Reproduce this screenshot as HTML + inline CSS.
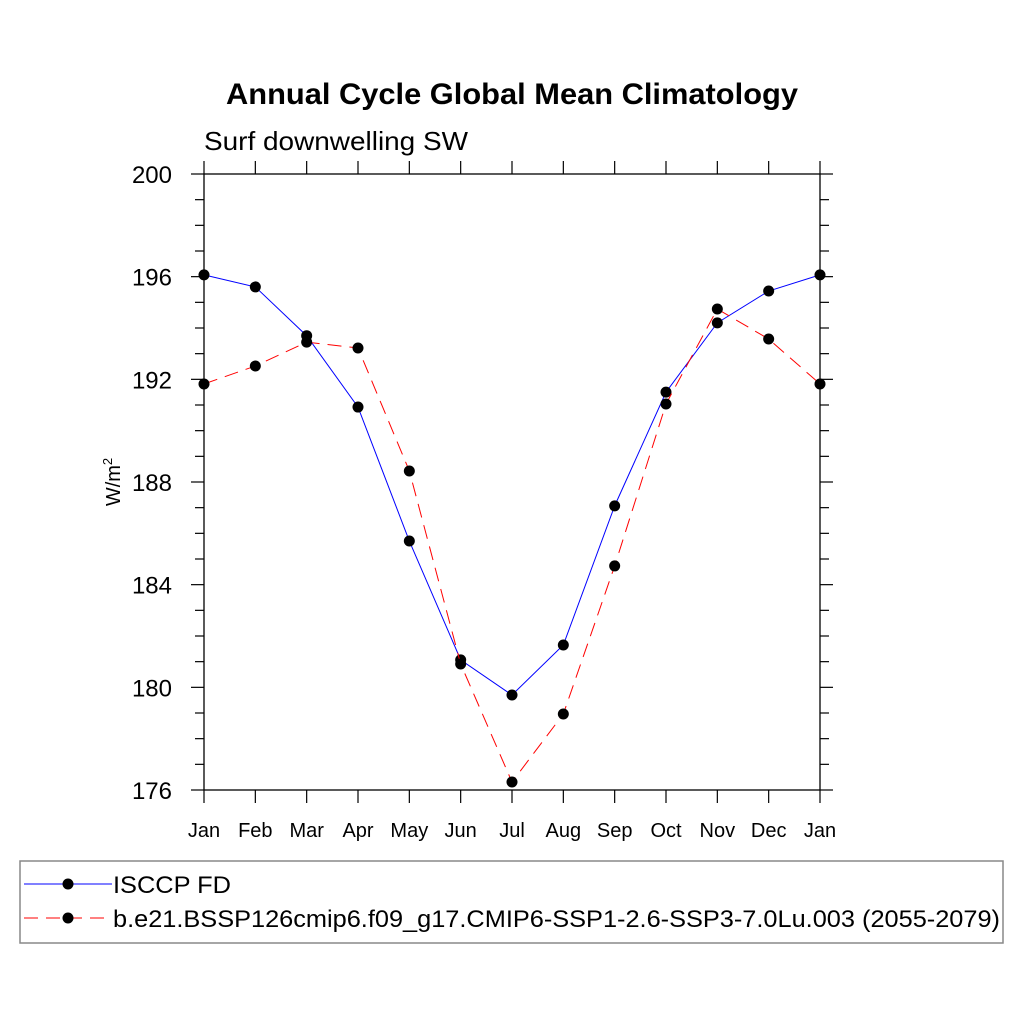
<!DOCTYPE html>
<html><head><meta charset="utf-8"><style>
body{margin:0;background:#fff}
svg text{font-family:"Liberation Sans",sans-serif;fill:#000}
</style></head><body>
<svg id="c" width="1024" height="1024">
<text x="226" y="104" textLength="572" lengthAdjust="spacingAndGlyphs" font-size="30" font-weight="bold">Annual Cycle Global Mean Climatology</text>
<text x="204" y="150" textLength="264" lengthAdjust="spacingAndGlyphs" font-size="26">Surf downwelling SW</text>
<text transform="translate(120,482) rotate(-90)" text-anchor="middle" font-size="20">W/m<tspan dy="-8" font-size="13">2</tspan></text>
<g id="axes"></g>
<g id="series"></g>
<rect x="20" y="861" width="983" height="82" fill="none" stroke="#888" stroke-width="1.5"/>
<line x1="24" y1="884" x2="112" y2="884" stroke="#00f" stroke-width="1"/>
<circle cx="68" cy="884" r="5.5" fill="#000"/>
<text x="113" y="893" textLength="118" lengthAdjust="spacingAndGlyphs" font-size="24">ISCCP FD</text>
<line x1="24" y1="918" x2="112" y2="918" stroke="#f00" stroke-width="1" stroke-dasharray="14,8"/>
<circle cx="68" cy="918" r="5.5" fill="#000"/>
<text x="113" y="927" textLength="887" lengthAdjust="spacingAndGlyphs" font-size="24">b.e21.BSSP126cmip6.f09_g17.CMIP6-SSP1-2.6-SSP3-7.0Lu.003 (2055-2079)</text>
</svg>
<script>
const months=["Jan","Feb","Mar","Apr","May","Jun","Jul","Aug","Sep","Oct","Nov","Dec","Jan"];
const isccp=[196.07,195.6,193.7,190.92,185.7,181.07,179.7,181.65,187.07,191.5,194.2,195.44,196.07];
const model=[191.82,192.52,193.45,193.22,188.43,180.91,176.31,178.96,184.73,191.04,194.74,193.57,191.82];
const yTicks=[176,180,184,188,192,196,200];
const X0=204,X1=820,Y0=174,Y1=790,YMIN=176,YMAX=200;
const xs=i=>X0+(X1-X0)*i/(months.length-1);
const ys=v=>Y1-(v-YMIN)/(YMAX-YMIN)*(Y1-Y0);
const NS="http://www.w3.org/2000/svg";
function mk(p,t,a){const e=document.createElementNS(NS,t);for(const k in a)e.setAttribute(k,a[k]);p.appendChild(e);return e;}
const ax=document.getElementById('axes');
const frame=mk(ax,'rect',{x:X0,y:Y0,width:X1-X0,height:Y1-Y0,fill:'none',stroke:'#000','stroke-width':1.3});


months.forEach((m,i)=>{
 const x=xs(i);
 const t=mk(ax,'line',{x1:x,y1:Y1,x2:x,y2:Y1+13,stroke:'#000','stroke-width':1.2});
 
 
 const t2=mk(ax,'line',{x1:x,y1:Y0,x2:x,y2:Y0-13,stroke:'#000','stroke-width':1.2});
 
 
 const l=mk(ax,'text',{x:x,y:Y1+47,'text-anchor':'middle','font-size':20});
 l.textContent=m;
 
 
});
for(let v=YMIN;v<=YMAX;v++){
 const y=ys(v),maj=yTicks.includes(v),len=maj?13:9;
 const a=mk(ax,'line',{x1:X0-len,y1:y,x2:X0,y2:y,stroke:'#000','stroke-width':1.2});
 
 
 const b=mk(ax,'line',{x1:X1,y1:y,x2:X1+len,y2:y,stroke:'#000','stroke-width':1.2});
 
 
}
yTicks.forEach(v=>{
 const l=mk(ax,'text',{x:X0-32,y:ys(v)+9,'text-anchor':'end','font-size':24});
 l.textContent=v;
 
 
});
const sg=document.getElementById('series');
function draw(vals,color,dash,name){
 const p=mk(sg,'polyline',{points:vals.map((v,i)=>xs(i)+','+ys(v)).join(' '),fill:'none',stroke:color,'stroke-width':1,'stroke-dasharray':dash});
 
 
 vals.forEach((v,i)=>{
  const c=mk(sg,'circle',{cx:xs(i),cy:ys(v),r:5.5,fill:'#000'});
  
  
 });
}
draw(isccp,'#00f','none','isccp');
draw(model,'#f00','14,8','model');
</script>
</body></html>
